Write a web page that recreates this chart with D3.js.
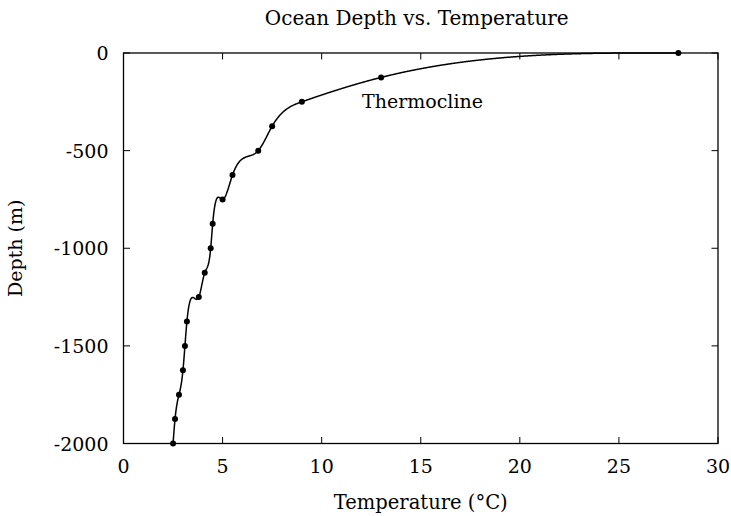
<!DOCTYPE html>
<html>
<head>
<meta charset="utf-8">
<script src="https://cdn.jsdelivr.net/npm/d3@7"></script>
<style>
  body { margin: 0; background: #fff; }
  text { font-family: "DejaVu Serif", "Liberation Serif", serif; fill: #000; }
</style>
</head>
<body>
<script>
// temperature (C) and depth (m) readings
const temps  = [28, 13, 9, 7.5, 6.8, 5.5, 5.0, 4.5, 4.4, 4.1, 3.8, 3.2, 3.1, 3.0, 2.8, 2.6, 2.5]
const depths = [0, -125, -250, -375, -500, -625, -750, -875, -1000, -1125, -1250, -1375, -1500, -1625, -1750, -1875, -2000]
const xTicks = [0, 5, 10, 15, 20, 25, 30]
const yTicks = [0, -500, -1000, -1500, -2000]

const w = 731
const h = 516
const m = { left: 123.5, right: 13, top: 53, bottom: 72.5 }
const fs = 19

const svg = d3.select('body').append('svg')
    .attr('width', w)
    .attr('height', h)

const x = d3.scaleLinear().domain([0, 30]).range([m.left, w - m.right])
const y = d3.scaleLinear().domain([-2000, 0]).range([h - m.bottom, m.top])

// natural cubic spline of y over x (like gnuplot csplines)
function curveNaturalX(context) {
    let pts = []
    return {
        areaStart() {}, areaEnd() {},
        lineStart() { pts = [] },
        point(px, py) { pts.push([+px, +py]) },
        lineEnd() {
            pts.sort((a, b) => a[0] - b[0])
            const n = pts.length
            const xs = pts.map(p => p[0]), ys = pts.map(p => p[1])
            const hh = [], al = [], l = [1], mu = [0], z = [0], c = new Array(n).fill(0)
            for (let i = 0; i < n - 1; i++) hh[i] = xs[i + 1] - xs[i]
            for (let i = 1; i < n - 1; i++)
                al[i] = 3 / hh[i] * (ys[i + 1] - ys[i]) - 3 / hh[i - 1] * (ys[i] - ys[i - 1])
            for (let i = 1; i < n - 1; i++) {
                l[i] = 2 * (xs[i + 1] - xs[i - 1]) - hh[i - 1] * mu[i - 1]
                mu[i] = hh[i] / l[i]
                z[i] = (al[i] - hh[i - 1] * z[i - 1]) / l[i]
            }
            const b = [], d = []
            for (let j = n - 2; j >= 0; j--) {
                c[j] = (j > 0 ? z[j] - mu[j] * c[j + 1] : 0)
                b[j] = (ys[j + 1] - ys[j]) / hh[j] - hh[j] * (c[j + 1] + 2 * c[j]) / 3
                d[j] = (c[j + 1] - c[j]) / (3 * hh[j])
            }
            context.moveTo(xs[0], ys[0])
            for (let j = 0; j < n - 1; j++) {
                const steps = Math.max(4, Math.ceil(hh[j] / 0.5))
                for (let k = 1; k <= steps; k++) {
                    const t = hh[j] * k / steps
                    context.lineTo(xs[j] + t, ys[j] + b[j] * t + c[j] * t * t + d[j] * t * t * t)
                }
            }
        }
    }
}

const data = temps.map((t, i) => ({ t, d: depths[i] }))

const g = svg.append('g')

// frame
g.append('rect')
    .attr('x', x(0)).attr('y', y(0))
    .attr('width', x(30) - x(0)).attr('height', y(-2000) - y(0))
    .attr('fill', 'none').attr('stroke', '#000').attr('stroke-width', 1.3)

const tl = 6.5
// ticks on all four sides, pointing inward
g.selectAll('.xt').data(xTicks).enter().append('path')
    .attr('d', d => `M${x(d)},${y(-2000)}v${-tl}M${x(d)},${y(0)}v${tl}`)
    .attr('stroke', '#000').attr('stroke-width', 1)
g.selectAll('.yt').data(yTicks).enter().append('path')
    .attr('d', d => `M${x(0)},${y(d)}h${tl}M${x(30)},${y(d)}h${-tl}`)
    .attr('stroke', '#000').attr('stroke-width', 1)

g.selectAll('.xl').data(xTicks).enter().append('text')
    .attr('x', d => x(d)).attr('y', y(-2000) + 29.5)
    .attr('text-anchor', 'middle').attr('font-size', fs)
    .text(d => d)
g.selectAll('.yl').data(yTicks).enter().append('text')
    .attr('x', x(0) - 15).attr('y', d => y(d) + 7)
    .attr('text-anchor', 'end').attr('font-size', fs)
    .text(d => d)

// curve
const line = d3.line()
    .x(d => x(d.t))
    .y(d => y(d.d))
    .curve(curveNaturalX)

g.append('path')
    .datum(data)
    .attr('d', line)
    .attr('fill', 'none')
    .attr('stroke', '#000')
    .attr('stroke-width', 1.5)

g.selectAll('circle').data(data).enter().append('circle')
    .attr('cx', d => x(d.t))
    .attr('cy', d => y(d.d))
    .attr('r', 3)
    .attr('fill', '#000')

// labels
svg.append('text')
    .attr('x', (x(0) + x(30)) / 2 - 4).attr('y', 25)
    .attr('text-anchor', 'middle').attr('font-size', 20)
    .text('Ocean Depth vs. Temperature')

svg.append('text')
    .attr('x', (x(0) + x(30)) / 2).attr('y', 509)
    .attr('text-anchor', 'middle').attr('font-size', 19.5)
    .text('Temperature (°C)')

svg.append('text')
    .attr('transform', `translate(22,${(y(0) + y(-2000)) / 2}) rotate(-90)`)
    .attr('text-anchor', 'middle').attr('font-size', fs)
    .text('Depth (m)')

svg.append('text')
    .attr('x', 362).attr('y', y(-250) + 6)
    .attr('font-size', fs)
    .text('Thermocline')
</script>
</body>
</html>
